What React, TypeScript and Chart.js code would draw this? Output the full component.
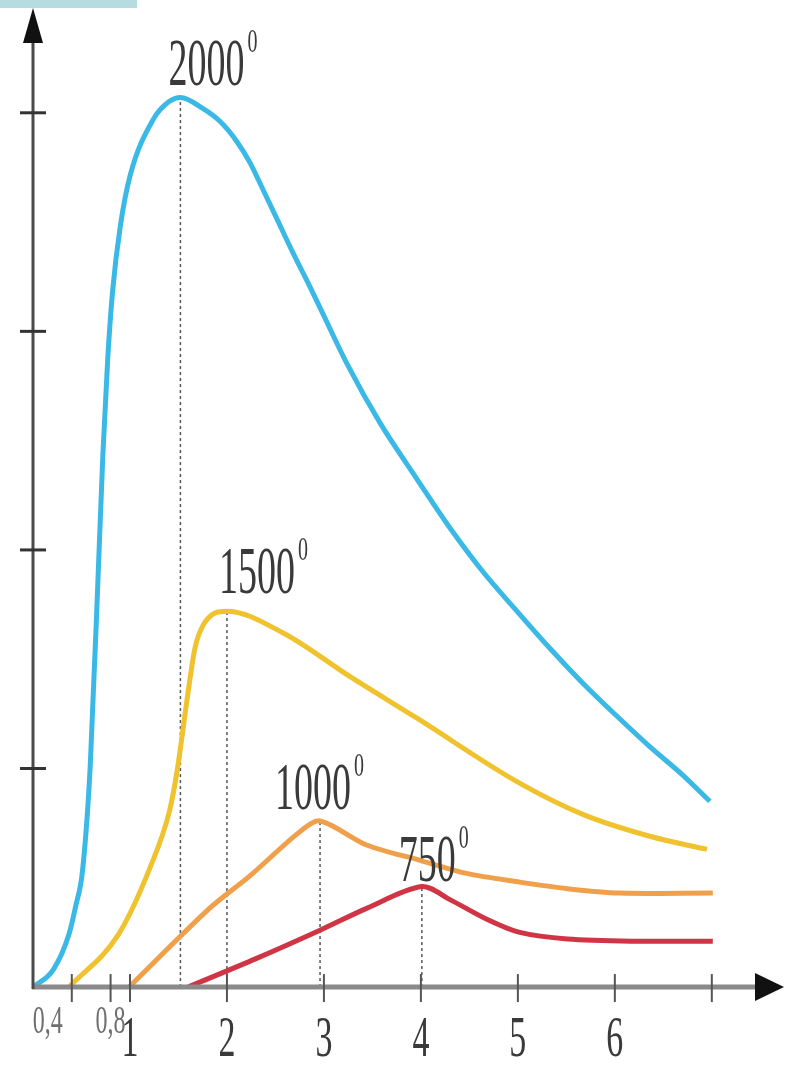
import React, { useEffect, useRef } from 'react';
import { Chart, registerables } from 'chart.js';

Chart.register(...registerables);

// ---- Data ----
const xTickValues = [0.4, 0.8, 1, 2, 3, 4, 5, 6, 7];
const xTickLabels = ['0,4', '0,8', '1', '2', '3', '4', '5', '6', ''];
const yTickValues = [1, 2, 3, 4];

const curveNames = ['2000', '1500', '1000', '750'];

const x2000 = [0, 0.21, 0.37, 0.44, 0.51, 0.59, 0.68, 0.72, 0.77, 0.82, 0.9, 1.0, 1.24, 1.4, 1.52, 1.75, 1.93, 2.1, 2.24, 2.37, 2.52, 2.68, 2.86, 2.99, 3.24, 3.58, 3.92, 4.3, 4.64, 4.99, 5.33, 5.67, 6.02, 6.36, 6.7, 6.98];
const y2000 = [0, 0.08, 0.24, 0.37, 0.53, 1.01, 1.98, 2.43, 2.87, 3.18, 3.48, 3.71, 3.97, 4.05, 4.07, 4.02, 3.96, 3.87, 3.77, 3.65, 3.51, 3.36, 3.2, 3.08, 2.85, 2.58, 2.35, 2.1, 1.9, 1.72, 1.55, 1.39, 1.24, 1.1, 0.97, 0.85];

const x1500 = [0.37, 0.88, 1.21, 1.41, 1.49, 1.59, 1.67, 1.76, 2.0, 2.58, 3.27, 3.96, 4.99, 5.67, 6.36, 6.95];
const y1500 = [0, 0.24, 0.55, 0.81, 1.0, 1.32, 1.55, 1.66, 1.72, 1.62, 1.42, 1.23, 0.94, 0.79, 0.69, 0.63];

const x1000 = [0.99, 1.82, 2.24, 2.75, 2.96, 3.44, 3.99, 4.47, 5.02, 5.51, 6.05, 7.01];
const y1000 = [0, 0.36, 0.51, 0.71, 0.76, 0.65, 0.58, 0.52, 0.48, 0.45, 0.43, 0.43];

const x750 = [1.6, 2.3, 2.96, 3.44, 4.01, 4.3, 4.68, 5.02, 5.51, 6.19, 7.01];
const y750 = [0, 0.13, 0.26, 0.36, 0.46, 0.4, 0.31, 0.25, 0.22, 0.21, 0.21];

// ---- Style ----
const curveColors = ['#3bb9e6', '#efc22e', '#f0a04a', '#cf3545'];
const labelOffsets = [[-12, -12], [-8, -18], [-45, -12], [-23, -6]];
const FONT = '"Liberation Serif", "Times New Roman", serif';
const TEXT_STRETCH = 1.8;
const TICK_STRETCH = 1.65;

const seriesX = [x2000, x1500, x1000, x750];
const seriesY = [y2000, y1500, y1000, y750];

const toPoints = (xs: number[], ys: number[]) => xs.map((x, i) => ({ x, y: ys[i] }));
const peakOf = (xs: number[], ys: number[]) => {
  let k = 0;
  ys.forEach((v, i) => { if (v > ys[k]) k = i; });
  return { x: xs[k], y: ys[k] };
};

const decorPlugin = {
  id: 'decor',
  afterDatasetsDraw(chart: any) {
    const ctx = chart.ctx as CanvasRenderingContext2D;
    const xs = chart.scales.x;
    const ys = chart.scales.y;
    const ox = xs.getPixelForValue(0);
    const oy = ys.getPixelForValue(0);
    const W = chart.width;
    ctx.save();
    // x axis
    ctx.strokeStyle = '#8a8a8a';
    ctx.lineWidth = 5;
    ctx.beginPath();
    ctx.moveTo(ox - 1, oy);
    ctx.lineTo(W - 25, oy);
    ctx.stroke();
    ctx.fillStyle = '#111';
    ctx.beginPath();
    ctx.moveTo(W - 1, oy);
    ctx.lineTo(W - 30, oy - 14);
    ctx.lineTo(W - 30, oy + 14);
    ctx.closePath();
    ctx.fill();
    // y axis
    ctx.strokeStyle = '#4a4a4a';
    ctx.lineWidth = 3;
    ctx.beginPath();
    ctx.moveTo(ox, oy + 2);
    ctx.lineTo(ox, 36);
    ctx.stroke();
    ctx.fillStyle = '#111';
    ctx.beginPath();
    ctx.moveTo(ox, 8);
    ctx.lineTo(ox - 10, 43);
    ctx.lineTo(ox + 10, 43);
    ctx.closePath();
    ctx.fill();
    // x tick marks crossing the axis
    ctx.strokeStyle = '#555';
    ctx.lineWidth = 2;
    xs.ticks.forEach((t: any) => {
      const px = xs.getPixelForValue(t.value);
      ctx.beginPath();
      ctx.moveTo(px, oy - 13);
      ctx.lineTo(px, oy + 15);
      ctx.stroke();
    });
    // y tick marks
    ctx.strokeStyle = '#333';
    ctx.lineWidth = 3;
    ys.ticks.forEach((t: any) => {
      const py = ys.getPixelForValue(t.value);
      ctx.beginPath();
      ctx.moveTo(ox - 13, py);
      ctx.lineTo(ox + 13, py);
      ctx.stroke();
    });
    // peak labels
    curveNames.forEach((name, i) => {
      const pk = peakOf(seriesX[i], seriesY[i]);
      const left = xs.getPixelForValue(pk.x) + labelOffsets[i][0];
      const base = ys.getPixelForValue(pk.y) + labelOffsets[i][1];
      ctx.save();
      ctx.fillStyle = '#3a3a3a';
      ctx.font = `38px ${FONT}`;
      const w = ctx.measureText(name).width;
      ctx.translate(left, base);
      ctx.scale(1, TEXT_STRETCH);
      ctx.textAlign = 'left';
      ctx.textBaseline = 'alphabetic';
      ctx.fillText(name, 0, 0);
      ctx.restore();
      ctx.save();
      ctx.fillStyle = '#3a3a3a';
      ctx.font = `20px ${FONT}`;
      ctx.translate(left + w + 3, base - 33);
      ctx.scale(1, TEXT_STRETCH * 0.95);
      ctx.textAlign = 'left';
      ctx.textBaseline = 'alphabetic';
      ctx.fillText('0', 0, 0);
      ctx.restore();
    });
    ctx.restore();
    // vertical stretch for the x tick labels drawn next (ticks.z = 1)
    const yc = oy + 16;
    ctx.save();
    ctx.translate(0, yc);
    ctx.scale(1, TICK_STRETCH);
    ctx.translate(0, -yc);
  },
  afterDraw(chart: any) {
    chart.ctx.restore();
  },
};

export default function App() {
  const canvasRef = useRef<HTMLCanvasElement | null>(null);

  useEffect(() => {
    if (!canvasRef.current) return;
    const curves = curveNames.map((name, i) => ({
      label: name,
      data: toPoints(seriesX[i], seriesY[i]),
      showLine: true,
      borderColor: curveColors[i],
      backgroundColor: curveColors[i],
      borderWidth: 5,
      pointRadius: 0,
      fill: false,
      ...(i < 2 ? { cubicInterpolationMode: 'monotone' as const } : { tension: 0.3 }),
    }));
    const drops = curveNames.map((name, i) => {
      const pk = peakOf(seriesX[i], seriesY[i]);
      return {
        label: name + ' peak',
        data: [{ x: pk.x, y: 0 }, { x: pk.x, y: pk.y }],
        showLine: true,
        borderColor: '#555',
        borderWidth: 1.5,
        borderDash: [3, 3],
        pointRadius: 0,
        fill: false,
      };
    });

    const chart = new Chart(canvasRef.current, {
      type: 'scatter',
      data: { datasets: [...curves, ...drops] as any },
      options: {
        responsive: false,
        animation: false,
        devicePixelRatio: 1,
        layout: { padding: { left: 33, right: 15, top: 21, bottom: 2 } },
        plugins: { legend: { display: false }, tooltip: { enabled: false }, title: { display: false } },
        scales: {
          x: {
            type: 'linear',
            min: 0,
            max: 7.6,
            grid: { display: false, drawTicks: false },
            border: { display: false },
            afterBuildTicks: (s: any) => { s.ticks = xTickValues.map((v) => ({ value: v })); },
            ticks: {
              z: 1,
              autoSkip: false,
              maxRotation: 0,
              padding: 15,
              callback: (v: any) => {
                const k = xTickValues.indexOf(Number(v));
                const lab = k >= 0 ? xTickLabels[k] : '';
                return k === 0 ? lab + '        ' : lab;
              },
              color: (c: any) => (c.tick && c.tick.value < 1 ? '#6f6f6f' : '#3a3a3a'),
              font: (c: any) =>
                c.tick && c.tick.value < 1
                  ? { family: FONT, size: 24, lineHeight: 1.09 }
                  : { family: FONT, size: 34, lineHeight: 1.41 },
            },
          },
          y: {
            type: 'linear',
            min: 0,
            max: 4.42,
            grid: { display: false, drawTicks: false },
            border: { display: false },
            afterBuildTicks: (s: any) => { s.ticks = yTickValues.map((v) => ({ value: v })); },
            ticks: { display: false },
          },
        },
      } as any,
      plugins: [decorPlugin],
    });
    return () => chart.destroy();
  }, []);

  return (
    <div style={{ position: 'absolute', left: 0, top: 0, width: 785, height: 1067, background: '#fff', overflow: 'hidden' }}>
      <canvas ref={canvasRef} width={785} height={1067} style={{ display: 'block' }} />
      <div style={{ position: 'absolute', left: 0, top: 0, width: 137, height: 8, background: '#b4dce1' }} />
    </div>
  );
}
